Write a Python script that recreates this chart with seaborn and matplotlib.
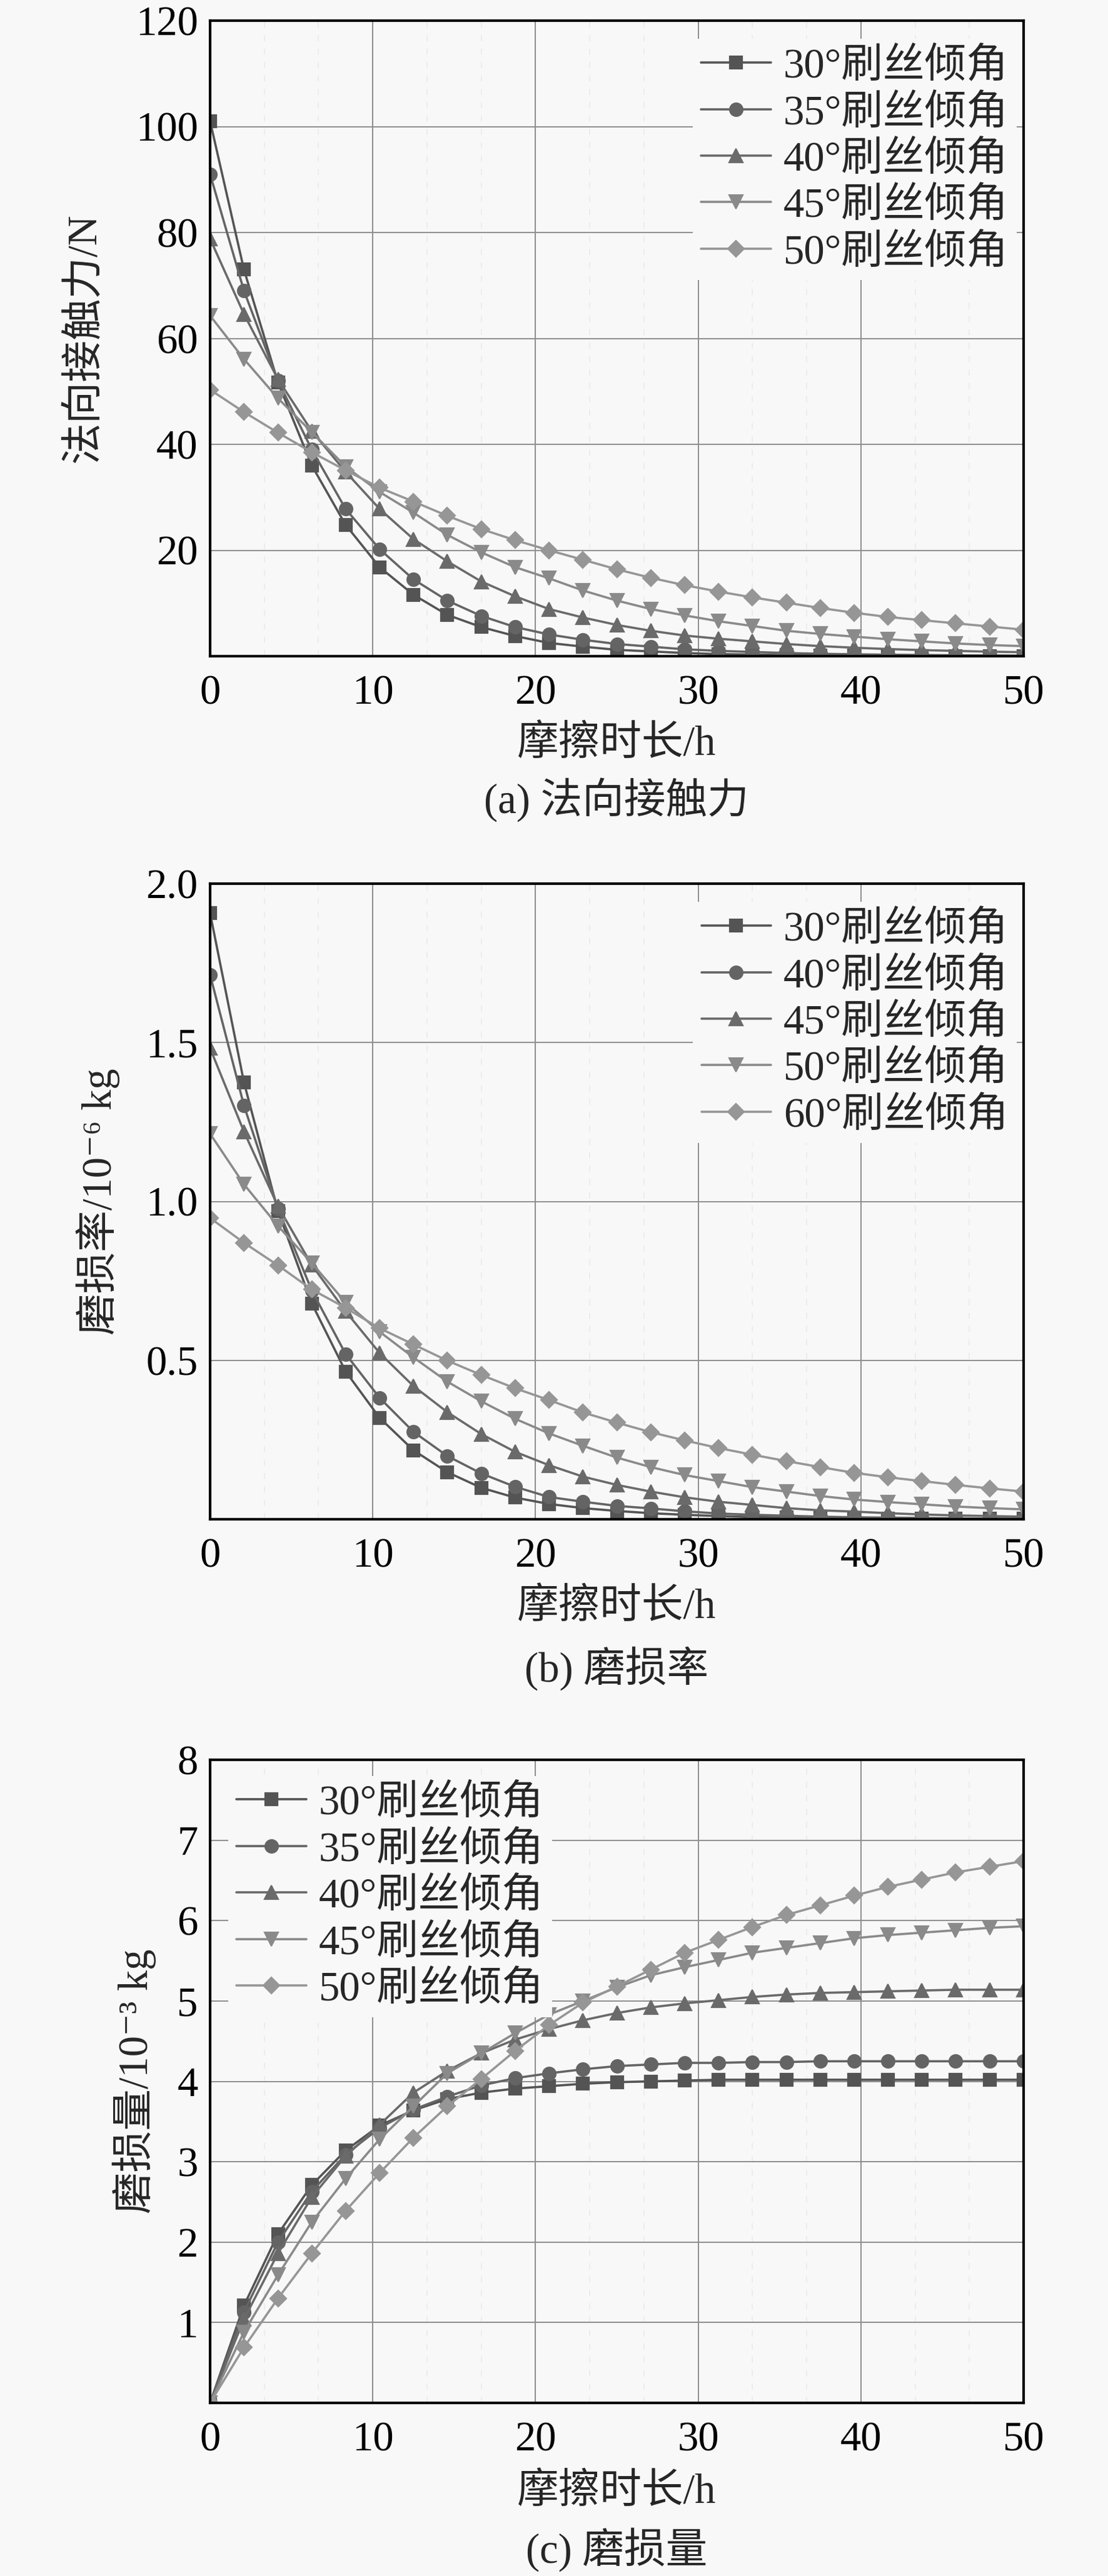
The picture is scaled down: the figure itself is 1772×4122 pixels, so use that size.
import matplotlib
matplotlib.use("Agg")
import matplotlib.pyplot as plt
from matplotlib import ticker
import seaborn as sns

sns.set_style("white")
plt.rcParams['font.family'] = ['Liberation Serif', 'Noto Sans CJK SC', 'DejaVu Sans']
plt.rcParams['axes.unicode_minus'] = False

# friction time (h), 25 samples
t_h = [0, 2.08, 4.17, 6.25, 8.33, 10.42, 12.5, 14.58, 16.67, 18.75, 20.83, 22.92, 25,
       27.08, 29.17, 31.25, 33.33, 35.42, 37.5, 39.58, 41.67, 43.75, 45.83, 47.92, 50]

# (a) normal contact force, N
force_30 = [101, 73.0, 51.7, 36.0, 24.8, 16.8, 11.6, 7.8, 5.5, 3.8, 2.5, 1.8, 1.2, 0.9, 0.6,
            0.4, 0.3, 0.2, 0.15, 0.1, 0.08, 0.05, 0.04, 0.03, 0.02]
force_35 = [91, 69.0, 52.0, 39.0, 27.8, 20.2, 14.5, 10.5, 7.6, 5.5, 4.1, 3.1, 2.3, 1.8, 1.3,
            1.0, 0.8, 0.6, 0.45, 0.35, 0.28, 0.22, 0.17, 0.13, 0.1]
force_40 = [78.8, 64.6, 52.3, 42.5, 34.8, 27.8, 22.1, 17.9, 14.1, 11.3, 8.9, 7.3, 5.9, 4.8, 3.9,
            3.3, 2.8, 2.3, 1.9, 1.6, 1.35, 1.15, 1.0, 0.85, 0.75]
force_45 = [64.3, 56.1, 48.7, 42.3, 35.8, 31.0, 27.1, 22.9, 19.6, 16.8, 14.7, 12.4, 10.5, 8.9, 7.7,
            6.6, 5.7, 4.8, 4.2, 3.7, 3.2, 2.8, 2.4, 2.1, 1.9]
force_50 = [50.3, 46.1, 42.2, 38.5, 35.1, 31.8, 29.2, 26.5, 24.0, 21.9, 20.0, 18.2, 16.4, 14.8, 13.4,
            12.2, 11.1, 10.1, 9.1, 8.2, 7.4, 6.8, 6.2, 5.6, 5.0]

# (b) wear rate, 1e-6 kg
rate_30 = [1.907, 1.375, 0.970, 0.679, 0.465, 0.319, 0.217, 0.148, 0.099, 0.068, 0.048, 0.035, 0.026,
           0.019, 0.014, 0.010, 0.007, 0.005, 0.004, 0.003, 0.002, 0.002, 0.001, 0.001, 0.001]
rate_40 = [1.713, 1.302, 0.978, 0.720, 0.520, 0.382, 0.275, 0.199, 0.144, 0.102, 0.070, 0.055, 0.042,
           0.034, 0.025, 0.018, 0.014, 0.011, 0.008, 0.006, 0.005, 0.004, 0.003, 0.002, 0.002]
rate_45 = [1.482, 1.220, 0.985, 0.800, 0.654, 0.523, 0.419, 0.337, 0.268, 0.212, 0.170, 0.134, 0.108,
           0.087, 0.069, 0.055, 0.045, 0.035, 0.028, 0.024, 0.019, 0.015, 0.012, 0.010, 0.008]
rate_50 = [1.213, 1.054, 0.923, 0.806, 0.682, 0.590, 0.509, 0.433, 0.371, 0.316, 0.270, 0.231, 0.194,
           0.164, 0.139, 0.120, 0.101, 0.087, 0.073, 0.062, 0.054, 0.047, 0.040, 0.035, 0.031]
rate_60 = [0.948, 0.870, 0.799, 0.723, 0.665, 0.601, 0.550, 0.499, 0.454, 0.412, 0.375, 0.336, 0.304,
           0.274, 0.248, 0.224, 0.203, 0.183, 0.164, 0.146, 0.132, 0.120, 0.108, 0.097, 0.087]

# (c) wear amount, 1e-3 kg
wear_30 = [0, 1.21, 2.10, 2.71, 3.14, 3.45, 3.64, 3.78, 3.86, 3.91, 3.94, 3.97, 3.99, 4.00, 4.01,
           4.02, 4.02, 4.02, 4.02, 4.02, 4.02, 4.02, 4.02, 4.02, 4.02]
wear_35 = [0, 1.13, 2.00, 2.63, 3.09, 3.42, 3.65, 3.81, 3.95, 4.04, 4.10, 4.15, 4.19, 4.21, 4.23,
           4.23, 4.24, 4.24, 4.25, 4.25, 4.25, 4.25, 4.25, 4.25, 4.25]
wear_40 = [0, 1.04, 1.86, 2.56, 3.07, 3.46, 3.86, 4.13, 4.35, 4.52, 4.65, 4.76, 4.85, 4.92, 4.97,
           5.01, 5.05, 5.08, 5.10, 5.11, 5.12, 5.13, 5.14, 5.14, 5.14]
wear_45 = [0, 0.88, 1.59, 2.25, 2.79, 3.28, 3.69, 4.10, 4.35, 4.60, 4.83, 5.00, 5.17, 5.32, 5.42,
           5.51, 5.60, 5.66, 5.72, 5.78, 5.82, 5.85, 5.88, 5.91, 5.93]
wear_50 = [0, 0.69, 1.30, 1.86, 2.39, 2.86, 3.30, 3.69, 4.03, 4.38, 4.70, 4.98, 5.18, 5.39, 5.60,
           5.76, 5.92, 6.07, 6.19, 6.31, 6.42, 6.51, 6.60, 6.67, 6.74]

labels_a = ['30°刷丝倾角', '35°刷丝倾角', '40°刷丝倾角', '45°刷丝倾角', '50°刷丝倾角']
labels_b = ['30°刷丝倾角', '40°刷丝倾角', '45°刷丝倾角', '50°刷丝倾角', '60°刷丝倾角']
labels_c = labels_a

colors = ['#545454', '#646464', '#6a6a6a', '#8a8a8a', '#969696']
markers = ['s', 'o', '^', 'v', 'D']
msizes = [7, 7.5, 8, 8, 6.5]

BG = '#f8f8f8'
W, H = 1772, 4122
fig = plt.figure(figsize=(W / 200, H / 200), dpi=200, facecolor=BG)


def px_axes(left, top, right, bottom):
    return fig.add_axes([left / W, 1 - bottom / H, (right - left) / W, (bottom - top) / H])


def style_axes(ax, ymax, ystep, yfmt):
    ax.set_facecolor(BG)
    ax.set_xlim(0, 50)
    ax.set_ylim(0, ymax)
    ax.xaxis.set_major_locator(ticker.MultipleLocator(10))
    ax.xaxis.set_minor_locator(ticker.AutoMinorLocator(3))
    ax.yaxis.set_major_locator(ticker.MultipleLocator(ystep))
    ax.yaxis.set_minor_locator(ticker.AutoMinorLocator(3))
    ax.yaxis.set_major_formatter(ticker.FuncFormatter(lambda v, p: '' if abs(v) < 1e-9 else yfmt.format(v)))
    ax.tick_params(which='both', direction='in', top=False, right=False, width=1.0, colors='black')
    ax.tick_params(which='major', length=7, labelsize=24)
    ax.tick_params(which='minor', length=3.3)
    ax.tick_params(axis='x', pad=10.5)
    ax.tick_params(axis='y', pad=7)
    ax.set_axisbelow(True)
    ax.grid(True, which='major', color='#8e8e8e', linewidth=0.7)
    ax.grid(True, which='minor', axis='x', color='#ececec', linewidth=0.7, linestyle=(0, (5, 6)))
    for s in ax.spines.values():
        s.set_color('black')
        s.set_linewidth(1.5)


def draw(ax, series, labels):
    for vals, lab, c, m, ms in zip(series, labels, colors, markers, msizes):
        sns.lineplot(x=t_h, y=vals, ax=ax, color=c, marker=m, markersize=ms,
                     markeredgecolor=c, markeredgewidth=0.8, linewidth=1.3, label=lab)


def finish(ax, height_px, ylabel, ylab_x, xlab_off, caption, cap_y):
    ax.set_xlabel('摩擦时长/h', fontsize=24)
    ax.xaxis.set_label_coords(0.5, -xlab_off / height_px)
    ax.xaxis.label.set_va('center')
    ax.set_ylabel(ylabel, fontsize=24)
    ax.yaxis.set_label_coords(ylab_x, 0.5)
    ax.yaxis.label.set_va('center')
    fig.text(986 / W, 1 - cap_y / H, caption, fontsize=24, ha='center', va='center')


def legend(ax, loc, anchor):
    leg = ax.legend(loc=loc, bbox_to_anchor=anchor, fontsize=24, frameon=True,
                    facecolor=BG, edgecolor='none', framealpha=1, fancybox=False,
                    borderpad=0.2, borderaxespad=0, handlelength=1.67, handletextpad=0.3,
                    labelspacing=0.19)
    return leg


# (a) normal contact force
ax_a = px_axes(336, 33, 1637, 1050)
style_axes(ax_a, 120, 20, '{:.0f}')
draw(ax_a, [force_30, force_35, force_40, force_45, force_50], labels_a)
legend(ax_a, 'upper right', (0.9915, 0.971))
finish(ax_a, 1017, '法向接触力/N', -0.1545, 141, '(a) 法向接触力', 1280)

# (b) wear rate
ax_b = px_axes(336, 1414, 1637, 2431)
style_axes(ax_b, 2.0, 0.5, '{:.1f}')
draw(ax_b, [rate_30, rate_40, rate_45, rate_50, rate_60], labels_b)
legend(ax_b, 'upper right', (0.9915, 0.971))
finish(ax_b, 1017, '磨损率/10⁻⁶ kg', -0.138, 141, '(b) 磨损率', 2670)

# (c) wear amount
ax_c = px_axes(336, 2816, 1637, 3845)
style_axes(ax_c, 8, 1, '{:.0f}')
draw(ax_c, [wear_30, wear_35, wear_40, wear_45, wear_50], labels_c)
legend(ax_c, 'upper left', (0.0223, 0.975))
finish(ax_c, 1029, '磨损量/10⁻³ kg', -0.093, 143, '(c) 磨损量', 4080)

fig.savefig('out.png', dpi=200, facecolor=BG)
